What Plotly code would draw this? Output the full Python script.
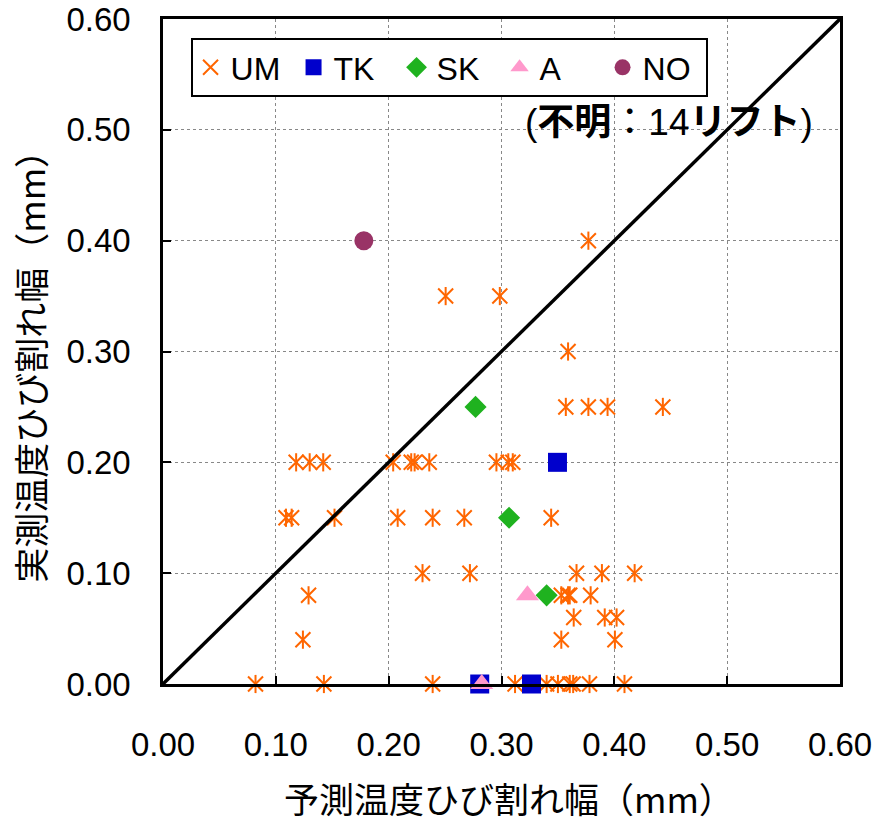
import plotly.graph_objects as go

# ---- data (mm) ----
um_x = [0.377, 0.2505, 0.2985, 0.359,
        0.357, 0.377, 0.394, 0.443,
        0.118, 0.130, 0.142, 0.204, 0.220, 0.223, 0.236, 0.2955, 0.306, 0.310,
        0.109, 0.114, 0.152, 0.208, 0.239, 0.267, 0.344,
        0.230, 0.272, 0.3665, 0.389, 0.418,
        0.129, 0.353, 0.359, 0.3605, 0.379,
        0.364, 0.3915, 0.402,
        0.124, 0.353, 0.4005,
        0.082, 0.1426, 0.239, 0.312, 0.340, 0.350, 0.3605, 0.3635, 0.378, 0.409]
um_y = [0.40, 0.35, 0.35, 0.30,
        0.25, 0.25, 0.25, 0.25,
        0.20, 0.20, 0.20, 0.20, 0.20, 0.20, 0.20, 0.20, 0.20, 0.20,
        0.15, 0.15, 0.15, 0.15, 0.15, 0.15, 0.15,
        0.10, 0.10, 0.10, 0.10, 0.10,
        0.08, 0.08, 0.08, 0.08, 0.08,
        0.06, 0.06, 0.06,
        0.04, 0.04, 0.04,
        0.00, 0.00, 0.00, 0.00, 0.00, 0.00, 0.00, 0.00, 0.00, 0.00]
tk_x = [0.3496, 0.2807, 0.3266]
tk_y = [0.20, 0.00, 0.00]
sk_x = [0.277, 0.3067, 0.340]
sk_y = [0.25, 0.15, 0.08]
a_x = [0.323, 0.2825]
a_y = [0.08, 0.00]
no_x = [0.178]
no_y = [0.40]
diag = [0.0, 0.6]
tick_vals = [0.0, 0.1, 0.2, 0.3, 0.4, 0.5, 0.6]
tick_text = ["0.00", "0.10", "0.20", "0.30", "0.40", "0.50", "0.60"]

FONT = "Liberation Sans, Arial, Noto Sans CJK JP, sans-serif"
ORANGE = "#FF6600"

fig = go.Figure()
fig.add_trace(go.Scatter(x=um_x, y=um_y, mode="markers", name="UM", legendgroup="UM",
                         cliponaxis=False,
                         marker=dict(symbol="x-thin-open", size=15, color=ORANGE,
                                     line=dict(color=ORANGE, width=2))))
fig.add_trace(go.Scatter(x=um_x, y=um_y, mode="markers", name="UM", legendgroup="UM",
                         showlegend=False, cliponaxis=False,
                         marker=dict(symbol="line-ns-open", size=13, color=ORANGE,
                                     line=dict(color=ORANGE, width=2))))
fig.add_trace(go.Scatter(x=tk_x, y=tk_y, mode="markers", name="TK", cliponaxis=False,
                         marker=dict(symbol="square", size=19, color="#0000CC")))
fig.add_trace(go.Scatter(x=sk_x, y=sk_y, mode="markers", name="SK", cliponaxis=False,
                         marker=dict(symbol="diamond", size=17, color="#1FB21F")))
fig.add_trace(go.Scatter(x=a_x, y=a_y, mode="markers", name="A", cliponaxis=False,
                         marker=dict(symbol="triangle-up", size=20, color="#FF99CC")))
fig.add_trace(go.Scatter(x=no_x, y=no_y, mode="markers", name="NO", cliponaxis=False,
                         marker=dict(symbol="circle", size=19, color="#993366")))
fig.add_trace(go.Scatter(x=diag, y=diag, mode="lines", showlegend=False,
                         line=dict(color="black", width=3.5), hoverinfo="skip"))

axis_common = dict(
    range=[0, 0.6], tickvals=tick_vals, ticktext=tick_text,
    showgrid=True, gridcolor="#888888", gridwidth=1, griddash="dot",
    showline=True, linecolor="black", linewidth=2.5, mirror=True,
    ticks="inside", ticklen=8, tickwidth=2, tickcolor="black",
    tickfont=dict(family=FONT, size=33, color="black"),
    zeroline=False, fixedrange=True, automargin=False,
)

fig.update_layout(
    width=875, height=822,
    margin=dict(l=163, r=35, t=19, b=138, autoexpand=False),
    paper_bgcolor="white", plot_bgcolor="white",
    font=dict(family=FONT, color="black"),
    xaxis=dict(**axis_common, ticklabelstandoff=30),
    yaxis=dict(**axis_common, ticklabelstandoff=23),
    legend=dict(orientation="h", x=0.0407, y=0.9714, xanchor="left", yanchor="top",
                bgcolor="white", bordercolor="black", borderwidth=2,
                font=dict(family=FONT, size=32, color="black"),
                entrywidth=58, entrywidthmode="pixels",
                itemsizing="trace"),
    annotations=[
        dict(text="(<b>不明</b>：14<b>リフト</b>)", xref="paper", yref="paper",
             x=0.963, y=0.845, xanchor="right", yanchor="middle", showarrow=False,
             font=dict(family=FONT, size=37, color="black")),
        dict(text="予測温度ひび割れ幅（mm）", xref="paper", yref="paper",
             x=0.511, y=-0.170, xanchor="center", yanchor="middle", showarrow=False,
             font=dict(family="Noto Sans CJK JP", size=35, color="black")),
        dict(text="実測温度ひび割れ幅（mm）", xref="paper", yref="paper",
             x=-0.197, y=0.49, xanchor="center", yanchor="middle", showarrow=False,
             textangle=-90,
             font=dict(family="Noto Sans CJK JP", size=35, color="black")),
    ],
)

fig.write_html("out.html", config={"displayModeBar": False},
               post_script="document.body.style.margin='0';")
